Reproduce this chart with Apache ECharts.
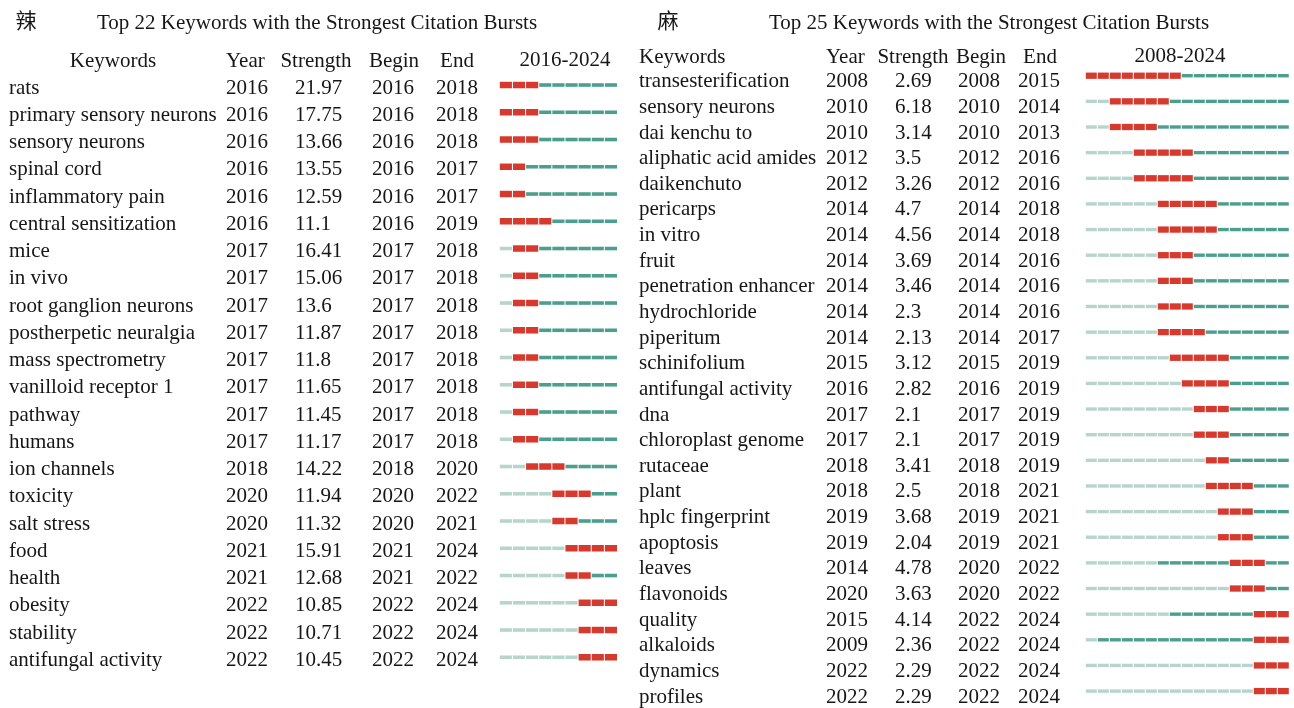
<!DOCTYPE html>
<html>
<head>
<meta charset="utf-8">
<script src="https://cdn.jsdelivr.net/npm/echarts@6/dist/echarts.min.js"></script>
<style>
html,body{margin:0;padding:0;background:#fff;}
#chart{width:1294px;height:708px;}
</style>
</head>
<body>
<div id="chart"></div>
<script>
// ---------- DATA ----------
const titleLeft = "Top 22 Keywords with the Strongest Citation Bursts";
const labelLeft = "辣";
const rangeLeft = [2016, 2024];
const keywordsLeft = ["rats","primary sensory neurons","sensory neurons","spinal cord","inflammatory pain","central sensitization","mice","in vivo","root ganglion neurons","postherpetic neuralgia","mass spectrometry","vanilloid receptor 1","pathway","humans","ion channels","toxicity","salt stress","food","health","obesity","stability","antifungal activity"];
const yearLeft = [2016,2016,2016,2016,2016,2016,2017,2017,2017,2017,2017,2017,2017,2017,2018,2020,2020,2021,2021,2022,2022,2022];
const strengthLeft = ["21.97","17.75","13.66","13.55","12.59","11.1","16.41","15.06","13.6","11.87","11.8","11.65","11.45","11.17","14.22","11.94","11.32","15.91","12.68","10.85","10.71","10.45"];
const beginLeft = [2016,2016,2016,2016,2016,2016,2017,2017,2017,2017,2017,2017,2017,2017,2018,2020,2020,2021,2021,2022,2022,2022];
const endLeft = [2018,2018,2018,2017,2017,2019,2018,2018,2018,2018,2018,2018,2018,2018,2020,2022,2021,2024,2022,2024,2024,2024];

const titleRight = "Top 25 Keywords with the Strongest Citation Bursts";
const labelRight = "麻";
const rangeRight = [2008, 2024];
const keywordsRight = ["transesterification","sensory neurons","dai kenchu to","aliphatic acid amides","daikenchuto","pericarps","in vitro","fruit","penetration enhancer","hydrochloride","piperitum","schinifolium","antifungal activity","dna","chloroplast genome","rutaceae","plant","hplc fingerprint","apoptosis","leaves","flavonoids","quality","alkaloids","dynamics","profiles"];
const yearRight = [2008,2010,2010,2012,2012,2014,2014,2014,2014,2014,2014,2015,2016,2017,2017,2018,2018,2019,2019,2014,2020,2015,2009,2022,2022];
const strengthRight = ["2.69","6.18","3.14","3.5","3.26","4.7","4.56","3.69","3.46","2.3","2.13","3.12","2.82","2.1","2.1","3.41","2.5","3.68","2.04","4.78","3.63","4.14","2.36","2.29","2.29"];
const beginRight = [2008,2010,2010,2012,2012,2014,2014,2014,2014,2014,2014,2015,2016,2017,2017,2018,2018,2019,2019,2020,2020,2022,2022,2022,2022];
const endRight = [2015,2014,2013,2016,2016,2018,2018,2016,2016,2016,2017,2019,2019,2019,2019,2019,2021,2021,2021,2022,2022,2024,2024,2024,2024];

const headers = ["Keywords","Year","Strength","Begin","End"];

// ---------- STYLE / LAYOUT ----------
const FONT = '"Liberation Serif", "Times New Roman", serif';
const CJK = '"Noto Sans CJK SC", sans-serif';
const TXT = '#161616';
const RED = '#d63a2f';
const TEAL = '#4c9f8e';
const LIGHT = '#b7d5cd';
const FS = '21px ';

const layout = [
  { grid: {left: 499.3, top: 71.4, width: 118.2, height: 599.5},
    cols: [9, 226, 295, 372, 436], textDy: 3,
    head: {y: 61, items: [[113,'center'],[226,'left'],[316,'center'],[394,'center'],[457,'center']], range: [565,'center']},
    title: [97, 23], label: [26, 20], hRed: 6.5, hTeal: 3.6 },
  { grid: {left: 1085.3, top: 62.9, width: 204, height: 641},
    cols: [639, 826, 895, 958, 1018], textDy: 6,
    head: {y: 57, items: [[639,'left'],[826,'left'],[913,'center'],[981,'center'],[1040,'center']], range: [1180,'center']},
    title: [769, 23], label: [668, 20], hRed: 6.3, hTeal: 3.4 }
];

const tables = [
  {title: titleLeft, label: labelLeft, range: rangeLeft, kw: keywordsLeft, year: yearLeft, str: strengthLeft, begin: beginLeft, end: endLeft},
  {title: titleRight, label: labelRight, range: rangeRight, kw: keywordsRight, year: yearRight, str: strengthRight, begin: beginRight, end: endRight}
];

const grids = [], xAxes = [], yAxes = [], series = [], graphics = [];

tables.forEach((t, ti) => {
  const L = layout[ti];
  grids.push(Object.assign({containLabel: false}, L.grid));
  xAxes.push({type: 'value', gridIndex: ti, min: t.range[0], max: t.range[1] + 1, show: false});
  yAxes.push({type: 'category', gridIndex: ti, data: t.kw, inverse: true, show: false});
  const data = t.kw.map((k, i) => [i, t.year[i], t.begin[i], t.end[i]]);

  // burst bars
  series.push({
    type: 'custom', xAxisIndex: ti, yAxisIndex: ti, data: data, silent: true,
    renderItem: function (params, api) {
      const row = api.value(0), yr = api.value(1), b = api.value(2), e = api.value(3);
      const children = [];
      for (let y = t.range[0]; y <= t.range[1]; y++) {
        const p0 = api.coord([y, row]);
        const p1 = api.coord([y + 1, row]);
        let color, h;
        if (y >= b && y <= e) { color = RED; h = L.hRed; }
        else if (y >= yr) { color = TEAL; h = L.hTeal; }
        else { color = LIGHT; h = L.hTeal; }
        children.push({type: 'rect', shape: {x: p0[0] + 0.5, y: p0[1] - h / 2, width: p1[0] - p0[0] - 1, height: h}, style: {fill: color}});
      }
      return {type: 'group', children: children};
    }
  });

  // text columns
  series.push({
    type: 'custom', xAxisIndex: ti, yAxisIndex: ti, data: data, silent: true,
    renderItem: function (params, api) {
      const i = params.dataIndex;
      const yy = api.coord([t.range[0], i])[1] + L.textDy;
      const vals = [t.kw[i], String(t.year[i]), t.str[i], String(t.begin[i]), String(t.end[i])];
      return {type: 'group', children: vals.map((v, c) => ({
        type: 'text', x: L.cols[c], y: yy,
        style: {text: v, font: FS + FONT, fill: TXT, textAlign: 'left', textVerticalAlign: 'middle', align: 'left', verticalAlign: 'middle'}
      }))};
    }
  });

  // headers
  headers.forEach((h, c) => {
    graphics.push({type: 'text', x: L.head.items[c][0], y: L.head.y,
      style: {text: h, font: FS + FONT, fill: TXT, textAlign: L.head.items[c][1], textVerticalAlign: 'middle'}});
  });
  graphics.push({type: 'text', x: L.head.range[0], y: L.head.y - 1,
    style: {text: t.range[0] + '-' + t.range[1], font: FS + FONT, fill: TXT, textAlign: 'center', textVerticalAlign: 'middle'}});
  graphics.push({type: 'text', x: L.title[0], y: L.title[1],
    style: {text: t.title, font: FS + FONT, fill: TXT, textAlign: 'left', textVerticalAlign: 'middle'}});
  graphics.push({type: 'text', x: L.label[0], y: L.label[1],
    style: {text: t.label, font: '21px ' + CJK, fill: TXT, textAlign: 'center', textVerticalAlign: 'middle'}});
});

const chart = echarts.init(document.getElementById('chart'), null, {renderer: 'canvas'});
chart.setOption({
  animation: false,
  backgroundColor: '#ffffff',
  grid: grids, xAxis: xAxes, yAxis: yAxes,
  series: series,
  graphic: graphics
});
</script>
</body>
</html>
